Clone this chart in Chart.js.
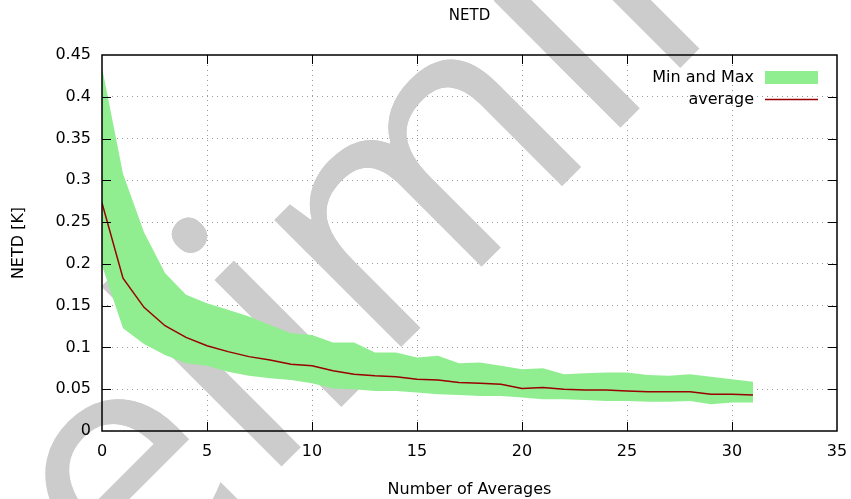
<!DOCTYPE html>
<html>
<head>
<meta charset="utf-8">
<script src="https://cdn.jsdelivr.net/npm/chart.js@4.4.1/dist/chart.umd.min.js"></script>
<style>
  html, body { margin: 0; padding: 0; background: #fff; }
  canvas { display: block; }
</style>
</head>
<body>
<canvas id="chart" width="851" height="499"></canvas>
<script>
// number of averages
const averages = [0, 1, 2, 3, 4, 5, 6, 7, 8, 9, 10, 11, 12, 13, 14, 15,
    16, 17, 18, 19, 20, 21, 22, 23, 24, 25, 26, 27, 28, 29, 30, 31];

const netdAvg = [0.273, 0.183, 0.148, 0.126, 0.112, 0.102, 0.095, 0.089, 0.085, 0.080,
    0.078, 0.072, 0.068, 0.066, 0.065, 0.062, 0.061, 0.058, 0.057, 0.056,
    0.051, 0.052, 0.050, 0.049, 0.049, 0.048, 0.047, 0.047, 0.047, 0.044, 0.044, 0.043];

const netdMax = [0.435, 0.308, 0.238, 0.189, 0.163, 0.153, 0.145, 0.137, 0.127, 0.117,
    0.115, 0.106, 0.106, 0.094, 0.094, 0.088, 0.090, 0.081, 0.082, 0.078,
    0.074, 0.075, 0.068, 0.069, 0.070, 0.070, 0.067, 0.066, 0.068, 0.065, 0.062, 0.059];

const netdMin = [0.198, 0.123, 0.104, 0.091, 0.081, 0.078, 0.071, 0.066, 0.063, 0.061,
    0.057, 0.051, 0.050, 0.048, 0.048, 0.046, 0.044, 0.043, 0.042, 0.042,
    0.040, 0.038, 0.038, 0.037, 0.036, 0.036, 0.035, 0.035, 0.036, 0.032, 0.034, 0.034];

const xTickLabels = ['0', '5', '10', '15', '20', '25', '30', '35'];
const yTickLabels = ['0', '0.05', '0.1', '0.15', '0.2', '0.25', '0.3', '0.35', '0.4', '0.45'];

const FONT = "'DejaVu Sans', sans-serif";
const FILL_GREEN = '#90ee90';
const DARK_RED = '#990000';
const GRID_GREY = '#9a9a9a';

// big grey "Preliminary" stamp lying across the plot at 45 degrees
const WM_TEXT = 'Preliminary';
const WM_FONT = "500 335px 'Open Sans'";
const WM_ANGLE = -Math.PI / 4;
const WM_ANCHOR = { x: 351, y: 397 };   // baseline point under the first "i"

const toPoints = (ys) => averages.map((x, i) => ({ x, y: ys[i] }));

function drawWatermark(ctx) {
    ctx.save();
    ctx.font = WM_FONT;
    ctx.fillStyle = '#cccccc';
    const before = ctx.measureText('Prel').width;
    const iw = ctx.measureText('i').width;
    ctx.translate(WM_ANCHOR.x, WM_ANCHOR.y);
    ctx.rotate(WM_ANGLE);
    ctx.fillText(WM_TEXT, -(before + iw / 2), 0);
    ctx.restore();
}

const watermark = {
    id: 'watermark',
    beforeDraw(chart) {
        drawWatermark(chart.ctx);
    },
    beforeDatasetsDraw(chart) {
        // again inside the plot so it hides the grid, labels outside stay on top
        const { ctx, chartArea: a } = chart;
        ctx.save();
        ctx.beginPath();
        ctx.rect(a.left, a.top, a.right - a.left, a.bottom - a.top);
        ctx.clip();
        drawWatermark(ctx);
        ctx.restore();
    }
};

// gnuplot style frame: black box with inward ticks on all four sides
const frame = {
    id: 'frame',
    afterDatasetsDraw(chart) {
        const { ctx, chartArea: a, scales } = chart;
        ctx.save();
        ctx.strokeStyle = '#000';
        ctx.lineWidth = 1;
        ctx.beginPath();
        scales.x.ticks.forEach(t => {
            const px = Math.round(scales.x.getPixelForValue(t.value)) + 0.5;
            if (px <= a.left + 1 || px >= a.right - 1) return;
            ctx.moveTo(px, a.bottom); ctx.lineTo(px, a.bottom - 9);
            ctx.moveTo(px, a.top); ctx.lineTo(px, a.top + 9);
        });
        scales.y.ticks.forEach(t => {
            const py = Math.round(scales.y.getPixelForValue(t.value)) + 0.5;
            if (py <= a.top + 1 || py >= a.bottom - 1) return;
            ctx.moveTo(a.left, py); ctx.lineTo(a.left + 9, py);
            ctx.moveTo(a.right, py); ctx.lineTo(a.right - 9, py);
        });
        ctx.stroke();
        ctx.lineWidth = 1.5;
        ctx.strokeRect(a.left, a.top, a.right - a.left, a.bottom - a.top);
        ctx.restore();
    }
};

// key in the top right corner, text first then the sample
const key = {
    id: 'key',
    afterDatasetsDraw(chart) {
        const { ctx, chartArea: a } = chart;
        const textRight = a.right - 83;
        const sx0 = a.right - 72, sx1 = a.right - 19;
        ctx.save();
        ctx.font = '16px ' + FONT;
        ctx.fillStyle = '#000';
        ctx.textAlign = 'right';
        ctx.textBaseline = 'middle';
        ctx.fillText('Min and Max', textRight, a.top + 23);
        ctx.fillText('average', textRight, a.top + 45);
        ctx.fillStyle = FILL_GREEN;
        ctx.fillRect(sx0, a.top + 16, sx1 - sx0, 13);
        ctx.strokeStyle = DARK_RED;
        ctx.lineWidth = 1.5;
        ctx.beginPath();
        ctx.moveTo(sx0, a.top + 44.5);
        ctx.lineTo(sx1, a.top + 44.5);
        ctx.stroke();
        ctx.restore();
    }
};

new Chart(document.getElementById('chart'), {
    type: 'line',
    data: {
        datasets: [
            {
                label: 'Min and Max',
                data: toPoints(netdMax),
                borderWidth: 0,
                pointRadius: 0,
                backgroundColor: FILL_GREEN,
                fill: '+1',
                order: 2,
            },
            {
                label: 'min',
                data: toPoints(netdMin),
                borderWidth: 0,
                pointRadius: 0,
                fill: false,
                order: 2,
            },
            {
                label: 'average',
                data: toPoints(netdAvg),
                borderColor: DARK_RED,
                borderWidth: 1.5,
                pointRadius: 0,
                fill: false,
                order: 0,
            }
        ]
    },
    options: {
        responsive: false,
        devicePixelRatio: 1,
        animation: false,
        layout: { padding: 0 },
        plugins: {
            legend: { display: false },
            tooltip: { enabled: false },
            title: {
                display: true,
                text: 'NETD',
                fullSize: false,
                color: '#000',
                font: { family: FONT, size: 15, weight: 'normal' },
                padding: { top: 7, bottom: 30 },
            }
        },
        scales: {
            x: {
                type: 'linear',
                min: 0,
                max: 35,
                afterFit: s => {
                    s.height = 68;
                    s.paddingLeft = 0;
                    s.paddingRight = 14;
                },
                afterBuildTicks: s => {
                    s.ticks = xTickLabels.map(v => ({ value: Number(v) }));
                },
                ticks: {
                    padding: 11,
                    color: '#000',
                    font: { family: FONT, size: 16 },
                    maxRotation: 0,
                    callback: (v, i) => xTickLabels[i],
                },
                grid: {
                    drawTicks: false,
                    color: c => (c.tick && (c.tick.value === 0 || c.tick.value === 35)) ? 'rgba(0,0,0,0)' : GRID_GREY,
                },
                border: { display: false, dash: [1, 4] },
                title: {
                    display: true,
                    text: 'Number of Averages',
                    color: '#000',
                    font: { family: FONT, size: 16 },
                    padding: { top: 0, bottom: 0 },
                }
            },
            y: {
                min: 0,
                max: 0.45,
                afterFit: s => { s.width = 102; },
                afterBuildTicks: s => {
                    s.ticks = yTickLabels.map(v => ({ value: Number(v) }));
                },
                ticks: {
                    padding: 11,
                    color: '#000',
                    font: { family: FONT, size: 16 },
                    callback: (v, i) => yTickLabels[i],
                },
                grid: {
                    drawTicks: false,
                    color: c => (c.tick && (c.tick.value === 0 || c.tick.value === 0.45)) ? 'rgba(0,0,0,0)' : GRID_GREY,
                },
                border: { display: false, dash: [1, 4] },
                title: {
                    display: true,
                    text: 'NETD [K]',
                    color: '#000',
                    font: { family: FONT, size: 16 },
                    padding: { top: 9, bottom: 0 },
                }
            }
        }
    },
    plugins: [watermark, frame, key]
});
</script>
</body>
</html>
